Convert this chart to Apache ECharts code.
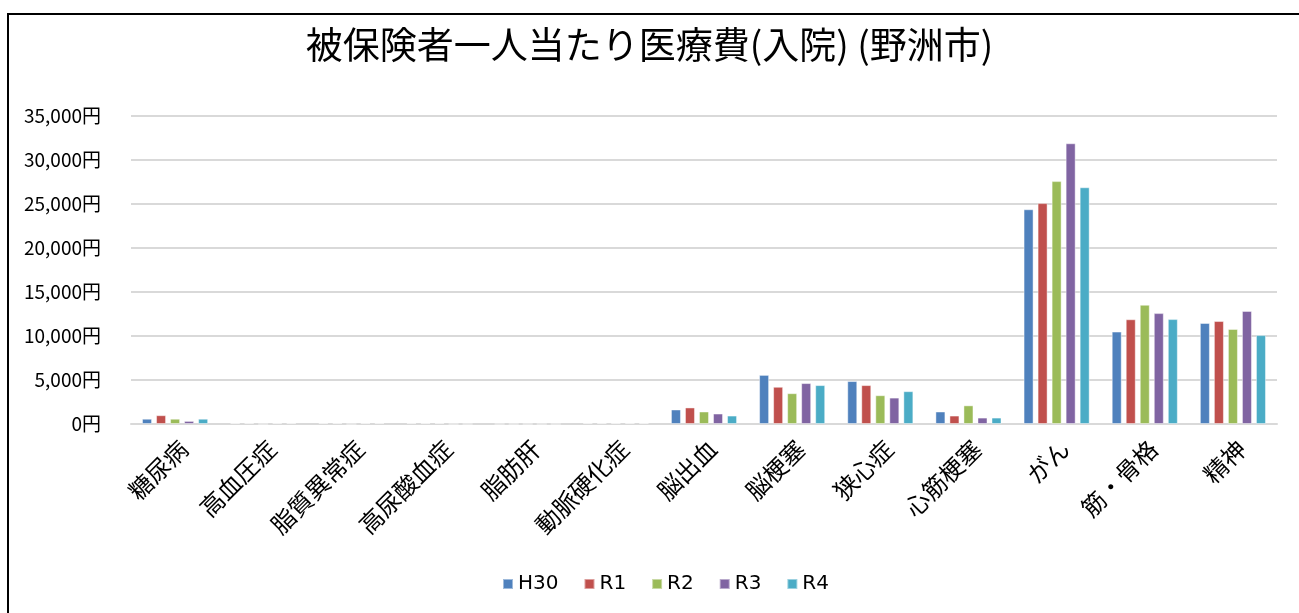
<!DOCTYPE html>
<html>
<head>
<meta charset="utf-8">
<script src="https://cdn.jsdelivr.net/npm/echarts@6/dist/echarts.min.js"></script>
<style>
  html, body { margin: 0; padding: 0; background: #fff; }
  #frame { position: absolute; left: 7px; top: 13px; width: 1400px; height: 700px; border-left: 2px solid #000; border-top: 2px solid #000; }
  #chart { position: absolute; left: 0; top: 0; width: 1299px; height: 613px; }
</style>
</head>
<body>
<div id="frame"></div>
<div id="chart"></div>
<script>
// 疾病分類
const categories = ['糖尿病', '高血圧症', '脂質異常症', '高尿酸血症', '脂肪肝', '動脈硬化症',
  '脳出血', '脳梗塞', '狭心症', '心筋梗塞', 'がん', '筋・骨格', '精神']

// 年度ごとの一人当たり医療費（円）
const h30 = [600, 100, 100, 100, 0, 100, 1650, 5580, 4880, 1420, 24400, 10500, 11480]
const r1  = [1000, 100, 100, 100, 0, 100, 1880, 4230, 4420, 960, 25100, 11900, 11700]
const r2  = [600, 0, 0, 100, 0, 100, 1420, 3500, 3270, 2120, 27600, 13550, 10800]
const r3  = [350, 100, 100, 0, 0, 100, 1190, 4650, 3000, 730, 31900, 12600, 12850]
const r4  = [600, 100, 100, 0, 0, 100, 960, 4420, 3730, 730, 26900, 11920, 10100]

const seriesNames = ['H30', 'R1', 'R2', 'R3', 'R4']
const seriesData = [h30, r1, r2, r3, r4]
const colors = ['#4F81BD', '#C0504D', '#9BBB59', '#8064A2', '#4BACC6']

const myCharts = echarts.init(document.getElementById('chart'))
myCharts.setOption({
  color: colors,
  animation: false,
  title: {
    text: '被保険者一人当たり医療費(入院) (野洲市)',
    left: 'center',
    top: 21,
    textStyle: {
      fontFamily: 'Noto Sans CJK JP',
      fontSize: 37,
      fontWeight: 'normal',
      color: '#000'
    }
  },
  grid: {
    left: 131,
    right: 22,
    top: 116,
    bottom: 189
  },
  legend: {
    bottom: 14,
    left: 497,
    icon: 'rect',
    itemWidth: 10,
    itemHeight: 10,
    itemGap: 25,
    textStyle: {
      fontFamily: 'DejaVu Sans',
      fontSize: 20,
      color: '#000'
    },
    data: seriesNames
  },
  xAxis: {
    type: 'category',
    data: categories,
    axisLine: { lineStyle: { color: '#d9d9d9', width: 2 } },
    axisTick: { show: false },
    axisLabel: {
      interval: 0,
      rotate: 45,
      margin: 12,
      verticalAlign: 'top',
      fontFamily: 'Noto Sans CJK JP',
      fontSize: 24,
      color: '#000'
    }
  },
  yAxis: {
    type: 'value',
    min: 0,
    max: 35000,
    interval: 5000,
    axisLine: { show: false },
    axisTick: { show: false },
    splitLine: { lineStyle: { color: '#d9d9d9', width: 2 } },
    axisLabel: {
      margin: 30,
      fontFamily: 'Noto Sans CJK JP',
      fontSize: 19,
      color: '#000',
      formatter: function (v) { return v.toLocaleString('en-US') + '円' }
    }
  },
  series: seriesNames.map(function (name, i) {
    return {
      name: name,
      type: 'bar',
      data: seriesData[i],
      barGap: '40%',
      barCategoryGap: '25%',
      itemStyle: {
        borderColor: 'rgba(255,255,255,0.45)',
        borderWidth: 1
      }
    }
  })
})
</script>
</body>
</html>
